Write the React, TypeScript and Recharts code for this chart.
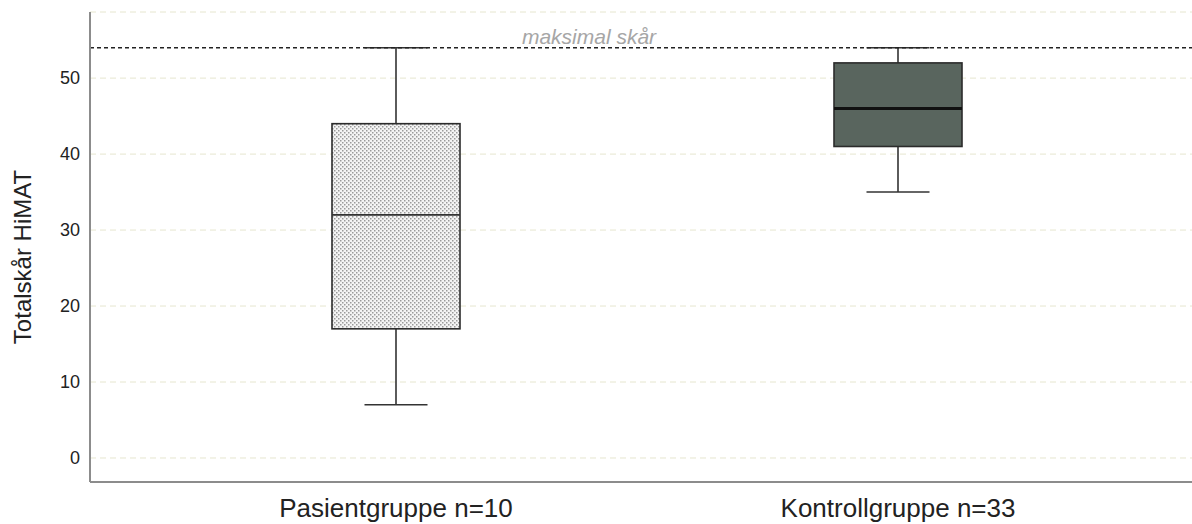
import { ComposedChart, Bar, XAxis, YAxis, CartesianGrid, ReferenceLine } from "recharts";

// groups and their box plot numbers
const groups = ["Pasientgruppe n=10", "Kontrollgruppe n=33"];
const minValues = [7, 35];
const q1Values = [17, 41];
const medianValues = [32, 46];
const q3Values = [44, 52];
const maxValues = [54, 54];
const yTicks = [0, 10, 20, 30, 40, 50];
const maxScore = 54;

const FONT = "Liberation Sans, Arial, sans-serif";

const data = groups.map((name, i) => ({
  name,
  min: minValues[i],
  q1: q1Values[i],
  median: medianValues[i],
  q3: q3Values[i],
  max: maxValues[i],
  range: [minValues[i], maxValues[i]],
}));

// draws a whole box plot inside the [min, max] bar the library placed
const BoxShape = (props: any) => {
  const { x, y, width, height, payload, index } = props;
  const { min, q1, median, q3, max } = payload;
  const toPx = (v: number) => y + ((max - v) / (max - min)) * height;
  const cx = x + width / 2;
  const capHalf = 31.5;
  const patient = index === 0;
  return (
    <g>
      <line x1={cx} x2={cx} y1={toPx(max)} y2={toPx(q3)} stroke="#333" strokeWidth={1.6} />
      <line x1={cx} x2={cx} y1={toPx(q1)} y2={toPx(min)} stroke="#333" strokeWidth={1.6} />
      <line x1={cx - capHalf} x2={cx + capHalf} y1={toPx(max)} y2={toPx(max)} stroke="#333" strokeWidth={1.6} />
      <line x1={cx - capHalf} x2={cx + capHalf} y1={toPx(min)} y2={toPx(min)} stroke="#333" strokeWidth={1.6} />
      <rect
        x={x}
        y={toPx(q3)}
        width={width}
        height={toPx(q1) - toPx(q3)}
        fill={patient ? "url(#dots)" : "#59655e"}
        stroke="#2b2b2b"
        strokeWidth={1.6}
      />
      <line
        x1={x}
        x2={x + width}
        y1={toPx(median)}
        y2={toPx(median)}
        stroke={patient ? "#333" : "#111"}
        strokeWidth={patient ? 1.8 : 3}
      />
    </g>
  );
};

const MaxLabel = (props: any) => {
  const { viewBox } = props;
  return (
    <text
      x={589}
      y={viewBox.y - 4}
      textAnchor="middle"
      fill="#a6a6a6"
      fontSize={21}
      fontStyle="italic"
      fontFamily={FONT}
    >
      maksimal skår
    </text>
  );
};

const YLabel = () => (
  <text
    x={22}
    y={257}
    transform="rotate(-90, 22, 257)"
    textAnchor="middle"
    dominantBaseline="central"
    fill="#222"
    fontSize={24}
    fontFamily={FONT}
  >
    Totalskår HiMAT
  </text>
);

function App() {
  return (
    <div style={{ position: "absolute", left: 0, top: 0 }}>
      <ComposedChart
        width={1192}
        height={524}
        data={data}
        margin={{ top: 12, right: 0, bottom: 0, left: 0 }}
        barSize={128}
      >
        <defs>
          <pattern id="dots" width="4" height="4" patternUnits="userSpaceOnUse">
            <rect width="4" height="4" fill="#f4f4f4" />
            <rect x="0" y="0" width="1.5" height="1.5" fill="#9a9a9a" />
            <rect x="2" y="2" width="1.5" height="1.5" fill="#9a9a9a" />
          </pattern>
        </defs>
        <CartesianGrid vertical={false} stroke="#e6e6cf" strokeDasharray="6 4" />
        <XAxis
          dataKey="name"
          padding={{ left: 55, right: 43 }}
          height={42}
          tickLine={false}
          axisLine={{ stroke: "#8c8c8c", strokeWidth: 2 }}
          tick={{ fill: "#222", fontSize: 26, fontFamily: FONT }}
          tickMargin={11}
        />
        <YAxis
          width={90}
          domain={[-3.16, 58.7]}
          ticks={yTicks}
          allowDataOverflow
          tickLine={false}
          axisLine={{ stroke: "#8c8c8c", strokeWidth: 2 }}
          tick={{ fill: "#222", fontSize: 18, fontFamily: FONT }}
          tickMargin={4}
          label={<YLabel />}
        />
        <ReferenceLine
          y={maxScore}
          stroke="#222"
          strokeWidth={1.6}
          strokeDasharray="4 3"
          label={<MaxLabel />}
        />
        <Bar dataKey="range" shape={<BoxShape />} isAnimationActive={false} />
      </ComposedChart>
    </div>
  );
}

export default App;
